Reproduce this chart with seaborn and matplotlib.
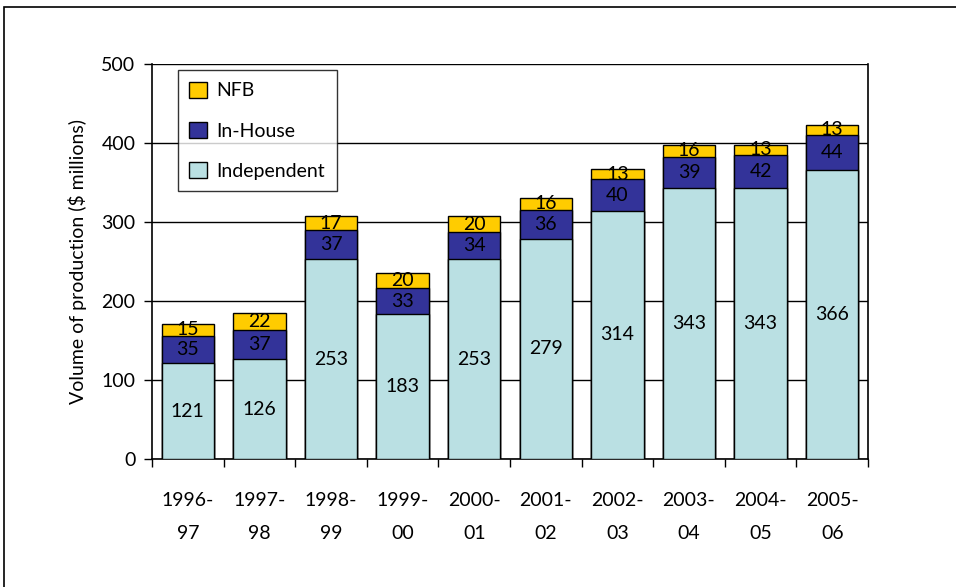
import matplotlib
matplotlib.use("Agg")
import matplotlib.pyplot as plt
from matplotlib.patches import Patch, Rectangle
import seaborn as sns
import numpy as np
import pandas as pd

years = ["1996-\n97", "1997-\n98", "1998-\n99", "1999-\n00", "2000-\n01",
         "2001-\n02", "2002-\n03", "2003-\n04", "2004-\n05", "2005-\n06"]
independent = [121, 126, 253, 183, 253, 279, 314, 343, 343, 366]
in_house = [35, 37, 37, 33, 34, 36, 40, 39, 42, 44]
nfb = [15, 22, 17, 20, 20, 16, 13, 16, 13, 13]

COL_IND = "#BAE0E3"
COL_INH = "#333399"
COL_NFB = "#FFCC00"

sns.set_style("white")
plt.rcParams["font.family"] = ["Lato", "DejaVu Sans"]
plt.rcParams["font.size"] = 14
plt.rcParams["text.color"] = "black"
plt.rcParams["axes.labelcolor"] = "black"
plt.rcParams["xtick.color"] = "black"
plt.rcParams["ytick.color"] = "black"

df = pd.DataFrame({"year": years, "Independent": independent,
                   "In-House": in_house, "NFB": nfb})
df["c1"] = df["Independent"]
df["c2"] = df["c1"] + df["In-House"]
df["c3"] = df["c2"] + df["NFB"]

fig = plt.figure(figsize=(9.56, 5.87), dpi=100)
ax = fig.add_axes([152 / 956, 128 / 587, 716 / 956, 395 / 587])

# stacked bars: draw totals first, then overlay lower layers
for col, color in [("c3", COL_NFB), ("c2", COL_INH), ("c1", COL_IND)]:
    sns.barplot(data=df, x="year", y=col, color=color, edgecolor="black",
                linewidth=1, width=0.73, saturation=1, ax=ax, zorder=3)

# labels in segment centres
for i in range(len(years)):
    ax.text(i, independent[i] / 2, str(independent[i]), ha="center", va="center", fontsize=14, zorder=5)
    ax.text(i, independent[i] + in_house[i] / 2, str(in_house[i]), ha="center", va="center", fontsize=14, zorder=5)
    ax.text(i, independent[i] + in_house[i] + nfb[i] / 2, str(nfb[i]), ha="center", va="center", fontsize=14, zorder=5)

ax.set_ylim(0, 500)
ax.set_xlim(-0.5, len(years) - 0.5)
ax.set_yticks([0, 100, 200, 300, 400, 500])
ax.yaxis.grid(True, color="black", linewidth=1)
ax.set_axisbelow(True)

ax.set_xticks(np.arange(-0.5, len(years), 1))
ax.set_xticklabels([])
ax.set_xticks(np.arange(len(years)), minor=True)
ax.set_xticklabels(years, minor=True, linespacing=2.1)
ax.tick_params(axis="x", which="major", direction="out", length=6, width=1, color="black", bottom=True)
ax.tick_params(axis="x", which="minor", length=0, pad=24, labelsize=14)
ax.tick_params(axis="y", direction="out", length=6, width=1, color="black", left=True, labelsize=14, pad=6)

for s in ["left", "bottom", "right"]:
    ax.spines[s].set_visible(True)
    ax.spines[s].set_color("black")
    ax.spines[s].set_linewidth(1.2)
ax.spines["top"].set_visible(False)

ax.set_xlabel("")
ax.set_ylabel("Volume of production (\\$ millions)", fontsize=14, labelpad=10)

handles = [Patch(facecolor=COL_NFB, edgecolor="black", label="NFB"),
           Patch(facecolor=COL_INH, edgecolor="black", label="In-House"),
           Patch(facecolor=COL_IND, edgecolor="black", label="Independent")]
leg = ax.legend(handles=handles, loc="upper left", bbox_to_anchor=(0.036, 0.985),
                borderaxespad=0, frameon=True, fancybox=False, edgecolor="black",
                labelspacing=1.15, handlelength=0.9, handleheight=0.9,
                handletextpad=0.5, borderpad=0.6, fontsize=14)
leg.get_frame().set_linewidth(1)
leg.set_zorder(6)

# outer frame
fig.patches.append(Rectangle((4 / 956, -0.01), 1.0, 1 - 7 / 587 + 0.01, transform=fig.transFigure,
                             fill=False, edgecolor="black", linewidth=1.2))

fig.savefig("out.png", dpi=100)
